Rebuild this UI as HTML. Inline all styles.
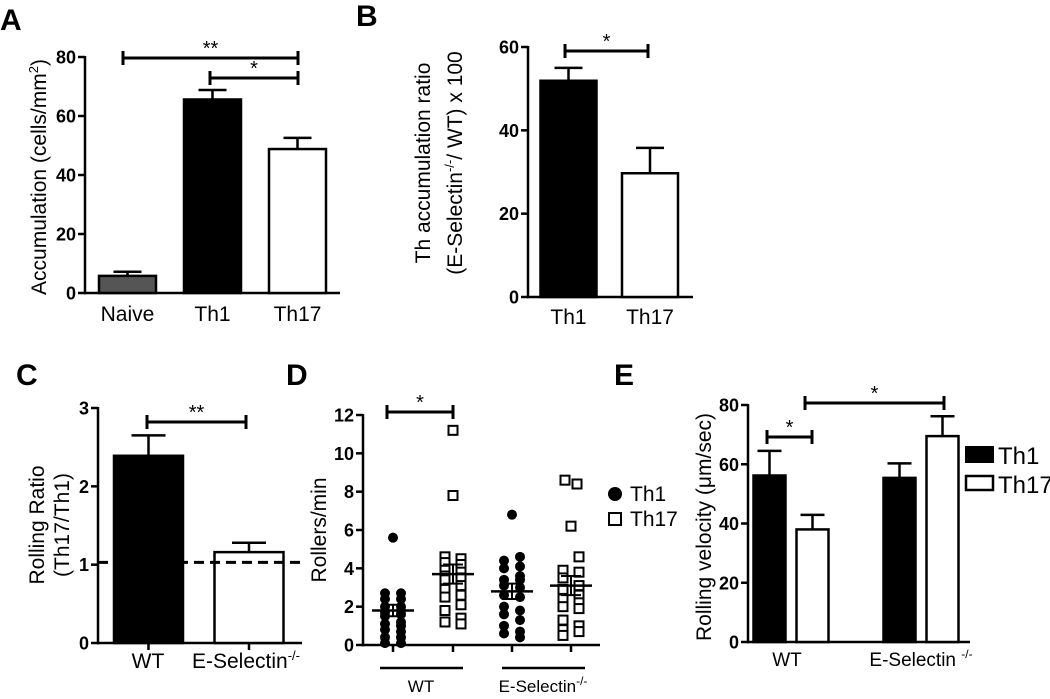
<!DOCTYPE html>
<html><head><meta charset="utf-8">
<style>
html,body{margin:0;padding:0;background:#fff;}
svg{display:block;font-family:"Liberation Sans",Arial,sans-serif;}
</style></head>
<body>
<svg id="fig" width="1050" height="699" viewBox="0 0 1050 699">
<text font-weight="bold" font-size="30" x="0" y="30">A</text>
<text font-weight="bold" font-size="30" x="356" y="26">B</text>
<text font-weight="bold" font-size="30" x="16" y="385">C</text>
<text font-weight="bold" font-size="30" x="286" y="385">D</text>
<text font-weight="bold" font-size="30" x="614" y="385">E</text>
</svg>
<script>
// ---------- data ----------
const aCats = ["Naive","Th1","Th17"];
const aVals = [5.8, 65.6, 48.8];
const aErrs = [1.4, 3.2, 3.8];
const aTicks = [0,20,40,60,80];

const bCats = ["Th1","Th17"];
const bVals = [51.9, 29.7];
const bErrs = [3.1, 6.1];
const bTicks = [0,20,40,60];

const cCats = ["WT","E-Selectin"];
const cVals = [2.39, 1.16];
const cErrs = [0.26, 0.12];
const cTicks = [0,1,2,3];
const cRef = 1.03;

const dTicks = [0,2,4,6,8,10,12];
const dWtTh1 = [5.6,2.7,2.7,2.4,2.4,2.0,2.0,1.8,1.7,1.6,1.5,1.2,1.1,1.0,0.8,0.7,0.4,0.4,0.1,0.1];
const dWtTh17 = [11.2,7.8,4.6,4.5,4.3,4.2,3.9,3.8,3.6,3.5,3.4,3.1,2.9,2.6,2.5,2.1,1.8,1.4,1.2,1.1];
const dKoTh1 = [6.8,4.6,4.4,4.1,4.0,3.6,3.4,3.4,3.1,3.0,2.6,2.5,2.0,1.8,1.6,1.3,1.0,0.7,0.6,0.4];
const dKoTh17 = [8.6,8.4,6.2,4.6,3.9,3.8,3.5,3.1,2.9,2.6,2.4,2.2,2.0,1.9,1.3,1.0,0.8,0.7,0.5];
const dMeans = [1.8,3.7,2.8,3.1];
const dSems = [0.3,0.5,0.4,0.5];

const eGroups = ["WT","E-Selectin"];
const eTh1 = [56.2, 55.4];
const eTh1Err = [8.3, 4.9];
const eTh17 = [38.0, 69.5];
const eTh17Err = [4.9, 6.7];
const eTicks = [0,20,40,60,80];

// ---------- helpers ----------
const NS = "http://www.w3.org/2000/svg";
const svg = document.getElementById('fig');
function mk(tag, attrs, parent){
  const e = document.createElementNS(NS, tag);
  for (const k in attrs) e.setAttribute(k, attrs[k]);
  (parent||svg).appendChild(e);
  return e;
}
function line(x1,y1,x2,y2,w,p,dash){
  const l = mk('line',{x1:x1,y1:y1,x2:x2,y2:y2,stroke:'#000','stroke-width':w||2.5},p);
  if(dash) l.setAttribute('stroke-dasharray',dash);
  return l;
}
function txt(x,y,s,size,anchor,p,bold){
  const t = mk('text',{x:x,y:y,'text-anchor':anchor||'middle','font-size':size||20},p);
  if(bold) t.setAttribute('font-weight','bold');
  t.textContent = s;
  return t;
}
function yAxis(g, ax, y0, y1, x1, ticks, scale){
  line(ax, y1-1, ax, y0+1.2, 2.5, g);
  line(ax-1, y0, x1, y0, 2.5, g);
  ticks.forEach(v=>{
    const y = scale(v);
    line(ax-7, y, ax, y, 2.5, g);
    const t = txt(ax-9, y+6.5, String(v), 18, 'end', g, true);
    
    
  });
}
function bracket(g, xa, xb, y, stars){
  line(xa, y, xb, y, 3, g);
  line(xa, y-7, xa, y+7, 3, g);
  line(xb, y-7, xb, y+7, 3, g);
  const t = txt((xa+xb)/2, y-3, stars, 20, 'middle', g);
  
  
}
function bar(g, x, w, yTop, y0, fill){
  return mk('rect',{x:x,y:yTop,width:w,height:y0-yTop,fill:fill,stroke:'#000','stroke-width':2.5},g);
}
function errBar(g, cx, yTop, yErr, half){
  line(cx, yTop, cx, yErr, 2.5, g);
  line(cx-half, yErr, cx+half, yErr, 2.5, g);
}
function vlabel(g, x, y, s, size){
  const t = mk('text',{x:0,y:0,'text-anchor':'middle','font-size':size||20,transform:'translate('+x+','+y+') rotate(-90)'},g);
  t.textContent = s;
  return t;
}

// ---------- Panel A ----------
(function(){
  const g = mk('g',{});
  
  
  const y0=293, y1=57, ax=85;
  const ys = v => y0 - v*(y0-y1)/80;
  yAxis(g, ax, y0, y1, 340, aTicks, ys);
  const xs = [127.5, 212.5, 297.5], bw = 57;
  const fills = ['#555','#000','#fff'];
  aVals.forEach((v,i)=>{
    errBar(g, xs[i], ys(v), ys(v+aErrs[i]), 14);
    const r = bar(g, xs[i]-bw/2, bw, ys(v), y0, fills[i]);
    
    
    const t = txt(xs[i], 321, aCats[i], 21, 'middle', g);
    
    
  });
  bracket(g, 123, 298, 58, '**');
  bracket(g, 210, 298, 78, '*');
  const yl = vlabel(g, 46, 177, '', 21);
  yl.innerHTML = 'Accumulation (cells/mm<tspan dy="-8" font-size="13">2</tspan><tspan dy="8">)</tspan>';
  
  
})();

// ---------- Panel B ----------
(function(){
  const g = mk('g',{});
  
  
  const y0=297, y1=47, ax=528;
  const ys = v => y0 - v*(y0-y1)/60;
  yAxis(g, ax, y0, y1, 693, bTicks, ys);
  const xs = [568.5, 650], bw = 56;
  const fills = ['#000','#fff'];
  bVals.forEach((v,i)=>{
    errBar(g, xs[i], ys(v), ys(v+bErrs[i]), 14);
    const r = bar(g, xs[i]-bw/2, bw, ys(v), y0, fills[i]);
    
    
    const t = txt(xs[i], 324, bCats[i], 21, 'middle', g);
    
    
  });
  bracket(g, 565, 648, 51, '*');
  const l1 = vlabel(g, 430, 163, 'Th accumulation ratio', 21);
  
  
  const l2 = vlabel(g, 462, 163, '', 21);
  l2.innerHTML = '(E-Selectin<tspan dy="-8" font-size="13">-/-</tspan><tspan dy="8">/ WT) x 100</tspan>';
  
  
})();

// ---------- Panel C ----------
(function(){
  const g = mk('g',{});
  
  
  const y0=643, y1=408, ax=98;
  const ys = v => y0 - v*(y0-y1)/3;
  yAxis(g, ax, y0, y1, 302, cTicks, ys);
  const xs = [148.5, 249], bw = 69;
  const fills = ['#000','#fff'];
  cVals.forEach((v,i)=>{
    errBar(g, xs[i], ys(v), ys(v+cErrs[i]), 17);
    const r = bar(g, xs[i]-bw/2, bw, ys(v), y0, fills[i]);
    
    
    line(xs[i], y0, xs[i], y0+7, 2.5, g);
  });
  const ref = line(ax, ys(cRef), 302, ys(cRef), 3, g, '10,6');
  
  
  const t1 = txt(148, 668, 'WT', 21, 'middle', g);
  
  
  const t2 = txt(246, 668, '', 21, 'middle', g);
  t2.innerHTML = 'E-Selectin<tspan dy="-8" font-size="13">-/-</tspan>';
  
  
  bracket(g, 147, 246, 422, '**');
  const l1 = vlabel(g, 44, 525, 'Rolling Ratio', 21);
  
  
  const l2 = vlabel(g, 69, 525, '(Th17/Th1)', 21);
  
  
})();

// ---------- Panel D ----------
(function(){
  const g = mk('g',{});
  
  
  const y0=645, y1=415, ax=363;
  const ys = v => y0 - v*(y0-y1)/12;
  yAxis(g, ax, y0, y1, 600, dTicks, ys);
  const xs = [393, 453, 512, 571];
  xs.forEach(x=>line(x, y0, x, y0+7, 2.5, g));
  const sets = [dWtTh1, dWtTh17, dKoTh1, dKoTh17];
  const shape = ['c','s','c','s'];
  sets.forEach((arr,k)=>{
    arr.forEach((v,i)=>{
      let off = (i%2 ? 8 : -8);
      if(i===0 && k!==3) off = 0;
      if(k===1 && i===1) off = 0;
      if(k===3 && i<3) off = [-6,6,0][i];
      const cx = xs[k] + off, cy = ys(v);
      let m;
      if(shape[k]==='c'){
        m = mk('circle',{cx:cx,cy:cy,r:5,fill:'#000'},g);
      } else {
        m = mk('rect',{x:cx-4.5,y:cy-4.5,width:9,height:9,fill:'#fff',stroke:'#000','stroke-width':2},g);
      }
      
      
    });
    const my = ys(dMeans[k]);
    const ml = line(xs[k]-21, my, xs[k]+21, my, 2.5, g);
    
    
    line(xs[k]-10, ys(dMeans[k]+dSems[k]), xs[k]+10, ys(dMeans[k]+dSems[k]), 2, g);
    line(xs[k]-10, ys(dMeans[k]-dSems[k]), xs[k]+10, ys(dMeans[k]-dSems[k]), 2, g);
    line(xs[k], ys(dMeans[k]+dSems[k]), xs[k], ys(dMeans[k]-dSems[k]), 2, g);
  });
  line(380, 668, 463, 668, 2.5, g);
  line(502, 668, 585, 668, 2.5, g);
  const t1 = txt(421, 692, 'WT', 17, 'middle', g);
  
  
  const t2 = txt(543, 692, '', 17, 'middle', g);
  t2.innerHTML = 'E-Selectin<tspan dy="-7" font-size="12">-/-</tspan>';
  
  
  bracket(g, 387, 453, 412, '*');
  const yl = vlabel(g, 326, 530, 'Rollers/min', 21);
  
  
  const lc = mk('circle',{cx:615,cy:494,r:7,fill:'#000'},g);
  
  
  const ls = mk('rect',{x:609,y:513,width:12,height:12,fill:'#fff',stroke:'#000','stroke-width':2},g);
  
  
  const lt1 = txt(630, 501, 'Th1', 21, 'start', g);
  
  
  const lt2 = txt(630, 526, 'Th17', 21, 'start', g);
  
  
})();

// ---------- Panel E ----------
(function(){
  const g = mk('g',{});
  
  
  const y0=642, y1=405, ax=748;
  const ys = v => y0 - v*(y0-y1)/80;
  yAxis(g, ax, y0, y1, 970, eTicks, ys);
  const groupX = [791, 921], bw = 32, gap = 11;
  eGroups.forEach((name,i)=>{
    const c1 = groupX[i] - (bw+gap)/2, c2 = groupX[i] + (bw+gap)/2;
    errBar(g, c1, ys(eTh1[i]), ys(eTh1[i]+eTh1Err[i]), 12);
    const r1 = bar(g, c1-bw/2, bw, ys(eTh1[i]), y0, '#000');
    
    
    errBar(g, c2, ys(eTh17[i]), ys(eTh17[i]+eTh17Err[i]), 12);
    const r2 = bar(g, c2-bw/2, bw, ys(eTh17[i]), y0, '#fff');
    
    
  });
  const t1 = txt(787, 666, 'WT', 19, 'middle', g);
  
  
  const t2 = txt(921, 666, '', 19, 'middle', g);
  t2.innerHTML = 'E-Selectin <tspan dy="-8" font-size="12">-/-</tspan>';
  
  
  bracket(g, 767, 812, 437, '*');
  bracket(g, 805, 944, 403, '*');
  const yl = vlabel(g, 711, 527, 'Rolling velocity (\u03BCm/sec)', 21);
  
  
  const k1 = mk('rect',{x:966,y:447,width:27,height:15,fill:'#000',stroke:'#000','stroke-width':2},g);
  
  
  const k2 = mk('rect',{x:966,y:476,width:27,height:14,fill:'#fff',stroke:'#000','stroke-width':2.5},g);
  
  
  const e1 = txt(998, 464, 'Th1', 24, 'start', g);
  
  
  const e2 = txt(998, 493, 'Th17', 24, 'start', g);
  
  
})();
</script>
</body></html>
